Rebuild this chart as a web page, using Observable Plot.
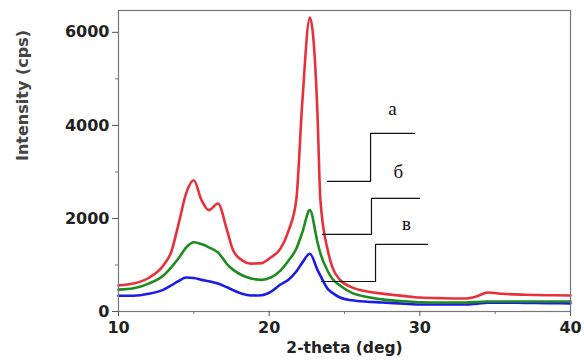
<!DOCTYPE html>
<html>
<head>
<meta charset="utf-8">
<script src="https://cdn.jsdelivr.net/npm/d3@7"></script>
<script src="https://cdn.jsdelivr.net/npm/@observablehq/plot@0.6"></script>
<style>
  html, body { margin: 0; padding: 0; background: #fff; }
</style>
</head>
<body>
<div id="chart"></div>
<script>
// 2-theta grid (deg)
const twoTheta = [10, 11, 12, 13, 13.5, 14, 14.5, 15, 15.5, 16, 16.6, 17.2, 17.6, 18.2, 18.8, 19.5, 20.1, 20.75, 21.3, 21.8, 22.2, 22.7, 23.2, 23.4, 23.9, 24.2, 24.7, 25.5, 26.5, 27.5, 29, 30, 31.5, 33, 33.8, 34.5, 35.5, 37, 38.5, 40];
// Intensity (cps)
const seriesA = [560, 600, 720, 1000, 1280, 1900, 2550, 2820, 2400, 2180, 2320, 1750, 1320, 1100, 1030, 1040, 1160, 1350, 1750, 2400, 4500, 6320, 4300, 2400, 1300, 950, 680, 520, 430, 385, 330, 300, 285, 280, 330, 410, 380, 360, 350, 345];
const seriesB = [470, 500, 600, 780, 950, 1150, 1380, 1490, 1450, 1380, 1270, 1020, 900, 780, 710, 680, 730, 880, 1100, 1350, 1700, 2180, 1500, 1250, 860, 700, 560, 400, 310, 260, 220, 200, 195, 195, 205, 215, 215, 215, 215, 215];
const seriesC = [340, 340, 380, 470, 560, 660, 730, 720, 680, 650, 600, 520, 460, 380, 345, 350, 420, 580, 690, 860, 1050, 1240, 900, 770, 480, 400, 300, 240, 210, 195, 165, 150, 150, 150, 170, 190, 190, 185, 180, 175];
const seriesNames = ["а", "б", "в"];
const seriesColors = ["#e8303a", "#1e8c1e", "#1c1ce6"];

const xTicks = [10, 20, 30, 40];
const xMinor = [15, 25, 35];
const yTicks = [0, 2000, 4000, 6000];
const yMinor = [1000, 3000, 5000];

// label annotations (data units)
const labelX = [28.19, 28.58, 29.11];
const labelY = [4365, 3010, 1892];
// step leader lines: per label, 4 points
const leaderX = [
  [23.87, 26.73, 26.73, 29.65],
  [23.54, 26.79, 26.79, 29.98],
  [23.47, 27.06, 27.06, 30.51]
];
const leaderY = [
  [2796, 2796, 3828, 3828],
  [1656, 1656, 2430, 2430],
  [645, 645, 1441, 1441]
];

const curves = [];
[seriesA, seriesB, seriesC].forEach((vals, i) => {
  vals.forEach((v, j) => curves.push({x: twoTheta[j], y: v, s: seriesNames[i], order: i}));
});
const drawOrder = [2, 1, 0];

const leaders = [];
leaderX.forEach((xs, i) => xs.forEach((xv, j) => leaders.push({x: xv, y: leaderY[i][j], k: i})));
const labels = seriesNames.map((n, i) => ({x: labelX[i], y: labelY[i], t: n}));

const plot = Plot.plot({
  width: 584,
  height: 362,
  marginLeft: 118,
  marginRight: 14,
  marginTop: 10,
  marginBottom: 51,
  style: {fontFamily: "DejaVu Sans", fontWeight: "bold", fontSize: "16px", color: "#222", background: "#fff"},
  x: {domain: [10, 40]},
  y: {domain: [0, 6470]},
  marks: [
    ...drawOrder.map(i => Plot.line(curves.filter(d => d.order === i), {
      x: "x", y: "y", stroke: seriesColors[i], strokeWidth: 2.6, strokeLinejoin: "round", curve: "monotone-x"
    })),
    Plot.line(leaders, {x: "x", y: "y", z: "k", stroke: "#111", strokeWidth: 1.2}),
    Plot.text(labels, {x: "x", y: "y", text: "t", fontFamily: "Liberation Serif", fontWeight: "normal", fontSize: 19, fill: "#111"}),
    Plot.frame({stroke: "#777", strokeWidth: 1.2}),
    Plot.axisX({ticks: xTicks, tickSize: 5, tickPadding: 5, tickFormat: d => String(d), label: null, stroke: "#555", fill: "#222"}),
    Plot.axisX({ticks: xMinor, tickSize: 3, tickFormat: () => "", label: null, stroke: "#777"}),
    Plot.axisY({ticks: yTicks, tickSize: 6, tickPadding: 3, tickFormat: d => String(d), label: null, stroke: "#555", fill: "#222"}),
    Plot.axisY({ticks: yMinor, tickSize: 3, tickFormat: () => "", label: null, stroke: "#777"}),
    Plot.text(["2-theta (deg)"], {frameAnchor: "bottom", dy: 41, fontSize: 15.5, fill: "#222"}),
    Plot.text(["Intensity (cps)"], {frameAnchor: "left", dx: -96, rotate: -90, fontSize: 16, fill: "#444"})
  ]
});
document.getElementById("chart").appendChild(plot);
</script>
</body>
</html>
